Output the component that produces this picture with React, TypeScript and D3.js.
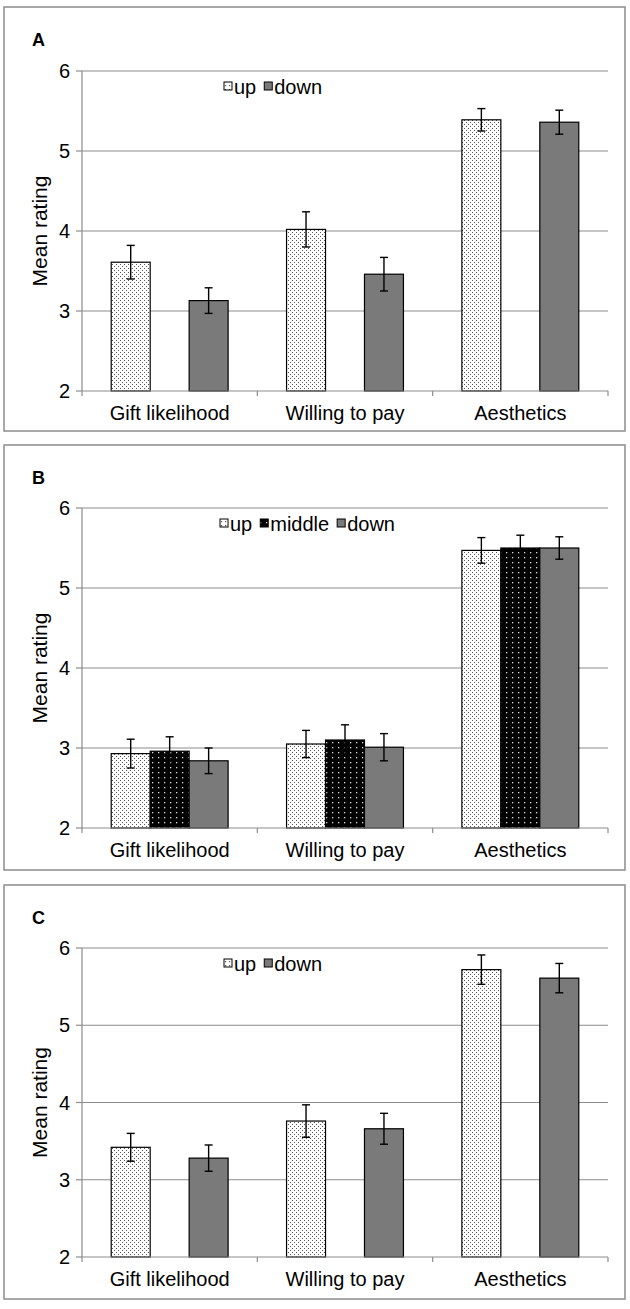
import React from 'react';
import * as d3 from 'd3';

const categories = ['Gift likelihood', 'Willing to pay', 'Aesthetics'];
const yTickValues = [2, 3, 4, 5, 6];

// Panel A
const aSeries = ['up', 'down'];
const aUp = [3.61, 4.02, 5.39];
const aUpErr = [0.21, 0.22, 0.14];
const aDown = [3.13, 3.46, 5.36];
const aDownErr = [0.16, 0.21, 0.15];

// Panel B
const bSeries = ['up', 'middle', 'down'];
const bUp = [2.93, 3.05, 5.47];
const bUpErr = [0.18, 0.17, 0.16];
const bMiddle = [2.96, 3.10, 5.50];
const bMiddleErr = [0.18, 0.19, 0.16];
const bDown = [2.84, 3.01, 5.50];
const bDownErr = [0.16, 0.17, 0.14];

// Panel C
const cSeries = ['up', 'down'];
const cUp = [3.42, 3.76, 5.72];
const cUpErr = [0.18, 0.21, 0.19];
const cDown = [3.28, 3.66, 5.61];
const cDownErr = [0.17, 0.20, 0.19];

const FONT = '"Liberation Sans", Arial, Helvetica, sans-serif';
const GRAY = '#8c8c8c';

const fillFor: Record<string, string> = {
  up: 'url(#patUp)',
  middle: 'url(#patMid)',
  down: '#7a7a7a',
};

let measureCtx: CanvasRenderingContext2D | null = null;
function textWidth(t: string, size: number) {
  if (!measureCtx) {
    const c = document.createElement('canvas');
    measureCtx = c.getContext('2d');
  }
  if (!measureCtx) return t.length * size * 0.5;
  measureCtx.font = `${size}px ${FONT}`;
  return measureCtx.measureText(t).width;
}

type PanelDef = {
  letter: string;
  series: string[];
  values: number[][];
  errors: number[][];
  frameTop: number;
  frameBottom: number;
  yTopPx: number;
  yBotPx: number;
  legendX: number;
};

const panels: PanelDef[] = [
  { letter: 'A', series: aSeries, values: [aUp, aDown], errors: [aUpErr, aDownErr], frameTop: 7, frameBottom: 431, yTopPx: 71, yBotPx: 391, legendX: 224 },
  { letter: 'B', series: bSeries, values: [bUp, bMiddle, bDown], errors: [bUpErr, bMiddleErr, bDownErr], frameTop: 445, frameBottom: 870, yTopPx: 508, yBotPx: 828, legendX: 220 },
  { letter: 'C', series: cSeries, values: [cUp, cDown], errors: [cUpErr, cDownErr], frameTop: 885, frameBottom: 1299, yTopPx: 948, yBotPx: 1257, legendX: 224 },
];

const X0 = 82;
const X1 = 608;
const FS = 20;

function Panel({ p }: { p: PanelDef }) {
  const x = d3.scaleBand<string>().domain(categories).range([X0, X1]).paddingInner(0).paddingOuter(0);
  const y = d3.scaleLinear().domain([2, 6]).range([p.yBotPx, p.yTopPx]);
  const band = x.bandwidth();
  const unit = band / 4.5;
  const n = p.series.length;
  const offsets = n === 2 ? [-unit, unit] : [-unit, 0, unit];
  const barW = unit;

  const legY = p.yTopPx + 16;
  let lx = p.legendX;
  const legItems = p.series.map((s) => {
    const item = { s, x: lx };
    lx += 8 + 2 + textWidth(s, FS) + 8;
    return item;
  });

  return (
    <g>
      <rect x={4} y={p.frameTop} width={621} height={p.frameBottom - p.frameTop} fill="#fff" stroke={GRAY} strokeWidth={1.5} />
      <text x={32} y={p.frameTop + 39} fontFamily={FONT} fontWeight="bold" fontSize={18}>{p.letter}</text>
      {yTickValues.filter((v) => v > 2).map((v) => (
        <line key={v} x1={X0} x2={X1} y1={y(v)} y2={y(v)} stroke={GRAY} strokeWidth={1.2} />
      ))}
      <line x1={X0} x2={X0} y1={y(6)} y2={y(2)} stroke={GRAY} strokeWidth={1.2} />
      {yTickValues.map((v) => (
        <g key={v}>
          <line x1={X0 - 6} x2={X0} y1={y(v)} y2={y(v)} stroke={GRAY} strokeWidth={1.2} />
          <text x={X0 - 12} y={y(v)} dy="0.35em" textAnchor="end" fontFamily={FONT} fontSize={FS}>{v}</text>
        </g>
      ))}
      <text
        transform={`translate(${40},${(y(2) + y(6)) / 2}) rotate(-90)`}
        textAnchor="middle"
        dy="0.35em"
        fontFamily={FONT}
        fontSize={21}
      >Mean rating</text>
      {categories.map((c, ci) => {
        const cx = (x(c) as number) + band / 2;
        return p.series.map((s, si) => {
          const v = p.values[si][ci];
          const bx = cx + offsets[si] - barW / 2;
          return (
            <rect key={c + s} x={bx} y={y(v)} width={barW} height={y(2) - y(v)} fill={fillFor[s]} stroke="#000" strokeWidth={1.2} />
          );
        });
      })}
      {categories.map((c, ci) => {
        const cx = (x(c) as number) + band / 2;
        return p.series.map((s, si) => {
          const v = p.values[si][ci];
          const e = p.errors[si][ci];
          const ex = cx + offsets[si];
          return (
            <g key={'e' + c + s} stroke="#000" strokeWidth={1.4}>
              <line x1={ex} x2={ex} y1={y(v + e)} y2={y(v - e)} />
              <line x1={ex - 4} x2={ex + 4} y1={y(v + e)} y2={y(v + e)} />
              <line x1={ex - 4} x2={ex + 4} y1={y(v - e)} y2={y(v - e)} />
            </g>
          );
        });
      })}
      <line x1={X0} x2={X1} y1={y(2)} y2={y(2)} stroke={GRAY} strokeWidth={1.2} />
      {[...categories.map((c) => x(c) as number), X1].map((tx, i) => (
        <line key={'t' + i} x1={tx} x2={tx} y1={y(2)} y2={y(2) + 5} stroke={GRAY} strokeWidth={1.2} />
      ))}
      {categories.map((c) => (
        <text key={'l' + c} x={(x(c) as number) + band / 2} y={y(2) + 22} dy="0.35em" textAnchor="middle" fontFamily={FONT} fontSize={FS}>{c}</text>
      ))}
      {legItems.map((it) => (
        <g key={'lg' + it.s}>
          <rect x={it.x} y={legY - 5} width={8} height={8} fill={it.s === 'up' ? 'url(#patLeg)' : fillFor[it.s]} stroke="#000" strokeWidth={1} />
          <text x={it.x + 10} y={legY} dy="0.35em" fontFamily={FONT} fontSize={FS}>{it.s}</text>
        </g>
      ))}
    </g>
  );
}

export default function App() {
  return (
    <svg width={630} height={1309} style={{ position: 'absolute', left: 0, top: 0, background: '#fff' }}>
      <defs>
        <pattern id="patUp" patternUnits="userSpaceOnUse" width={4} height={4}>
          <rect width={4} height={4} fill="#fff" />
          <rect x={0} y={0} width={1} height={1} fill="#555" />
          <rect x={2} y={2} width={1} height={1} fill="#555" />
        </pattern>
        <pattern id="patLeg" patternUnits="userSpaceOnUse" width={4} height={4}>
          <rect width={4} height={4} fill="#fff" />
          <rect x={1} y={1} width={1.2} height={1.2} fill="#555" />
        </pattern>
        <pattern id="patMid" patternUnits="userSpaceOnUse" width={6} height={5}>
          <rect width={6} height={5} fill="#000" />
          <rect x={2} y={2} width={1.3} height={1.3} fill="#ddd" />
        </pattern>
      </defs>
      <rect width={630} height={1309} fill="#fff" />
      {panels.map((p) => (
        <Panel key={p.letter} p={p} />
      ))}
    </svg>
  );
}
